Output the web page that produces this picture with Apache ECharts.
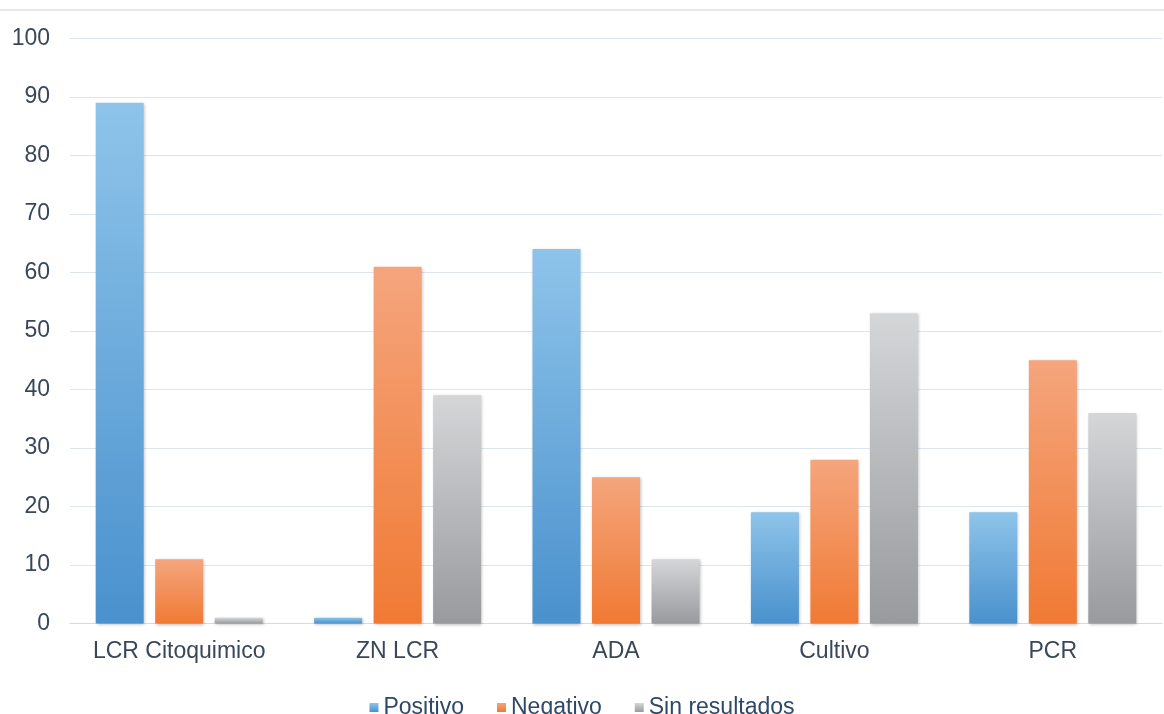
<!DOCTYPE html>
<html>
<head>
<meta charset="utf-8">
<script src="https://cdn.jsdelivr.net/npm/echarts@6/dist/echarts.min.js"></script>
<style>
html,body{margin:0;padding:0;background:#fff;}
#c{width:1164px;height:714px;}
</style>
</head>
<body>
<div id="c"></div>
<script>
const categories = ['LCR Citoquimico', 'ZN LCR', 'ADA', 'Cultivo', 'PCR'];
const positivo = [89, 1, 64, 19, 19];
const negativo = [11, 61, 25, 28, 45];
const sinResultados = [1, 39, 11, 53, 36];
const yTicks = [0, 10, 20, 30, 40, 50, 60, 70, 80, 90, 100];

function grad(top, bottom) {
  return new echarts.graphic.LinearGradient(0, 0, 0, 1, [
    {offset: 0, color: top}, {offset: 1, color: bottom}
  ]);
}
const chart = echarts.init(document.getElementById('c'));
const barBase = {
  type: 'bar',
  barWidth: 48,
  barGap: '24%',
  itemStyle: {shadowBlur: 3, shadowColor: 'rgba(0,0,0,0.25)', shadowOffsetX: 1, shadowOffsetY: 1}
};
const font = 'Liberation Sans, Arial';
chart.setOption({
  animation: false,
  backgroundColor: '#ffffff',
  grid: {left: 70, right: 2, top: 38.5, bottom: 90.5, containLabel: false},
  graphic: [{
    type: 'line', shape: {x1: 0, y1: 10, x2: 1164, y2: 10},
    style: {stroke: '#E3E6EA', lineWidth: 2}
  }],
  legend: {
    top: 691, left: 'center',
    itemWidth: 9, itemHeight: 9, itemGap: 33,
    icon: 'rect',
    textStyle: {fontFamily: font, fontSize: 23, color: '#2E4868', padding: [0,0,0,0]},
    data: ['Positivo', 'Negativo', 'Sin resultados']
  },
  xAxis: {
    type: 'category', data: categories,
    axisTick: {show: false},
    axisLine: {lineStyle: {color: '#D5DAE0', width: 1}},
    axisLabel: {fontFamily: font, fontSize: 23, color: '#3A475A', margin: 17, interval: 0}
  },
  yAxis: {
    type: 'value', min: 0, max: 100, interval: 10,
    axisLine: {show: false}, axisTick: {show: false},
    splitLine: {lineStyle: {color: '#DCE4EE', width: 1}},
    axisLabel: {fontFamily: font, fontSize: 23, color: '#3A475A', margin: 20,
      formatter: v => yTicks.includes(v) ? String(v) : ''}
  },
  series: [
    Object.assign({}, barBase, {name: 'Positivo', data: positivo,
      itemStyle: Object.assign({}, barBase.itemStyle, {color: grad('#8EC4EA', '#4A91CD')}),
      color: '#4A91CD'}),
    Object.assign({}, barBase, {name: 'Negativo', data: negativo,
      itemStyle: Object.assign({}, barBase.itemStyle, {color: grad('#F5A57D', '#F07A34')}),
      color: '#F07A34'}),
    Object.assign({}, barBase, {name: 'Sin resultados', data: sinResultados,
      itemStyle: Object.assign({}, barBase.itemStyle, {color: grad('#D5D6D8', '#999A9D')}),
      color: '#A5A6A9'})
  ]
});
</script>
</body>
</html>
